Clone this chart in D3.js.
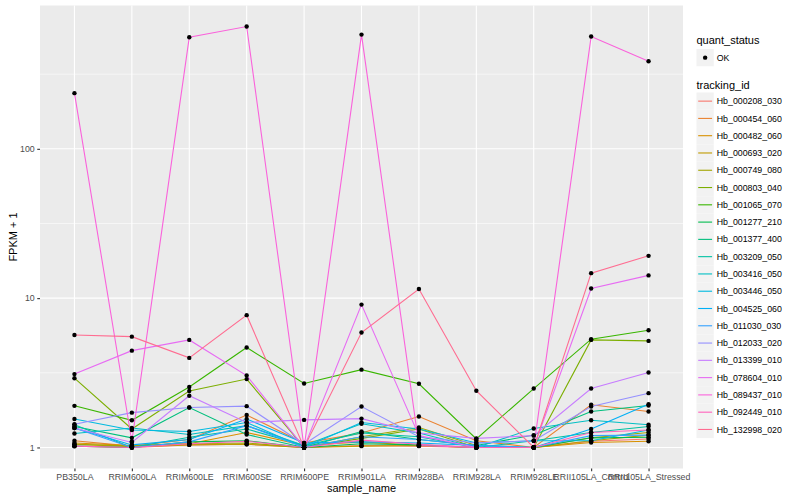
<!DOCTYPE html>
<html>
<head>
<meta charset="utf-8">
<script src="https://cdn.jsdelivr.net/npm/d3@7"></script>
<style>
  body { margin: 0; background: #ffffff; }
  svg { display: block; font-family: "Liberation Sans", Arial, Helvetica, sans-serif; }
</style>
</head>
<body>
<svg id="chart" width="800" height="500"></svg>
<script>
"use strict";

// sample names (x axis)
var samples = ["PB350LA", "RRIM600LA", "RRIM600LE", "RRIM600SE", "RRIM600PE",
  "RRIM901LA", "RRIM928BA", "RRIM928LA", "RRIM928LE",
  "RRII105LA_Control", "RRII105LA_Stressed"];

var trackingIds = ["Hb_000208_030", "Hb_000454_060", "Hb_000482_060", "Hb_000693_020",
  "Hb_000749_080", "Hb_000803_040", "Hb_001065_070", "Hb_001277_210", "Hb_001377_400",
  "Hb_003209_050", "Hb_003416_050", "Hb_003446_050", "Hb_004525_060", "Hb_011030_030",
  "Hb_012033_020", "Hb_013399_010", "Hb_078604_010", "Hb_089437_010", "Hb_092449_010",
  "Hb_132998_020"];

// FPKM + 1 for every gene, in the order of samples
var hb000208_030 = [1.02, 1.00, 1.04, 1.05, 1.00, 1.03, 1.02, 1.00, 1.00, 1.10, 1.14];
var hb000454_060 = [1.11, 1.02, 1.13, 1.65, 1.07, 1.25, 1.61, 1.11, 1.00, 1.93, 1.74];
var hb000482_060 = [1.07, 1.03, 1.06, 1.26, 1.03, 1.09, 1.03, 1.00, 1.00, 1.08, 1.10];
var hb000693_020 = [1.05, 1.01, 1.04, 1.05, 1.00, 1.02, 1.03, 1.00, 1.00, 1.11, 1.21];
var hb000749_080 = [1.05, 1.02, 1.06, 1.07, 1.00, 1.18, 1.36, 1.03, 1.00, 1.16, 1.26];
var hb000803_040 = [2.91, 1.33, 2.39, 2.87, 1.00, 1.15, 1.33, 1.00, 1.00, 5.25, 5.17];
var hb001065_070 = [1.90, 1.52, 2.54, 4.67, 2.68, 3.32, 2.67, 1.14, 2.48, 5.31, 6.10];
var hb001277_210 = [1.02, 1.00, 1.09, 1.11, 1.00, 1.06, 1.04, 1.00, 1.00, 1.16, 1.17];
var hb001377_400 = [1.38, 1.16, 1.85, 1.22, 1.00, 1.28, 1.13, 1.03, 1.21, 1.74, 1.91];
var hb003209_050 = [1.42, 1.00, 1.17, 1.33, 1.03, 1.25, 1.18, 1.00, 1.11, 1.26, 1.38];
var hb003416_050 = [1.24, 1.35, 1.22, 1.40, 1.03, 1.44, 1.25, 1.00, 1.34, 1.52, 1.42];
var hb003446_050 = [1.55, 1.31, 1.28, 1.47, 1.00, 1.47, 1.33, 1.07, 1.11, 1.11, 1.31];
var hb004525_060 = [1.35, 1.04, 1.13, 1.55, 1.07, 1.09, 1.07, 1.03, 1.00, 1.33, 1.95];
var hb011030_030 = [1.35, 1.00, 1.09, 1.40, 1.00, 1.18, 1.13, 1.03, 1.00, 1.20, 1.21];
var hb012033_020 = [1.43, 1.71, 1.85, 1.89, 1.05, 1.88, 1.18, 1.07, 1.11, 1.88, 2.31];
var hb013399_010 = [1.35, 1.08, 2.22, 1.47, 1.53, 1.56, 1.25, 1.15, 1.20, 2.48, 3.18];
var hb078604_010 = [3.10, 4.45, 5.25, 3.03, 1.00, 9.05, 1.20, 1.00, 1.00, 11.6, 14.2];
var hb089437_010 = [236, 1.10, 559, 659, 1.00, 582, 1.03, 1.00, 1.00, 565, 386];
var hb092449_010 = [1.02, 1.00, 1.06, 1.10, 1.00, 1.12, 1.05, 1.00, 1.00, 1.26, 1.31];
var hb132998_020 = [5.67, 5.52, 3.98, 7.69, 1.00, 5.88, 11.5, 2.40, 1.00, 14.7, 19.2];

var seriesValues = [hb000208_030, hb000454_060, hb000482_060, hb000693_020, hb000749_080,
  hb000803_040, hb001065_070, hb001277_210, hb001377_400, hb003209_050, hb003416_050,
  hb003446_050, hb004525_060, hb011030_030, hb012033_020, hb013399_010, hb078604_010,
  hb089437_010, hb092449_010, hb132998_020];

var yTicks = [1, 10, 100];
var quantStatus = ["OK"];

var series = trackingIds.map(function(id, i) {
  return {
    id: id,
    points: samples.map(function(s, j) { return { sample: s, value: seriesValues[i][j] }; })
  };
});

// ggplot hue palette (20 colours)
var color = d3.scaleOrdinal()
  .domain(trackingIds)
  .range(["#F8766D", "#EA8331", "#D89000", "#C09B00", "#A3A500", "#7CAE00", "#39B600",
    "#00BB4E", "#00BF7D", "#00C1A3", "#00BFC4", "#00BAE0", "#00B0F6", "#35A2FF",
    "#9590FF", "#C77CFF", "#E76BF3", "#FA62DB", "#FF62BC", "#FF6C91"]);

var svg = d3.select("#chart");

var panel = { left: 40, right: 683, top: 5.5, bottom: 468.5 };

var x = d3.scalePoint()
  .domain(samples)
  .range([panel.left, panel.right])
  .padding(0.6);

// log scale with 5% expansion like ggplot
var allValues = d3.merge(seriesValues);
var lmin = Math.log10(d3.min(allValues)), lmax = Math.log10(d3.max(allValues));
var pad = (lmax - lmin) * 0.05;
var y = d3.scaleLog()
  .domain([Math.pow(10, lmin - pad), Math.pow(10, lmax + pad)])
  .range([panel.bottom, panel.top]);

// panel background
svg.append("rect")
  .attr("x", panel.left)
  .attr("y", panel.top)
  .attr("width", panel.right - panel.left)
  .attr("height", panel.bottom - panel.top)
  .attr("fill", "#EBEBEB");

// minor gridlines (half decade)
var minor = [0.5, 1.5, 2.5].map(function(d) { return Math.pow(10, d); });
svg.append("g").selectAll("line")
  .data(minor)
  .enter()
  .append("line")
  .attr("x1", panel.left).attr("x2", panel.right)
  .attr("y1", function(d) { return y(d); })
  .attr("y2", function(d) { return y(d); })
  .attr("stroke", "#ffffff")
  .attr("stroke-width", 0.55);

// major gridlines
svg.append("g").selectAll("line")
  .data(yTicks)
  .enter()
  .append("line")
  .attr("x1", panel.left).attr("x2", panel.right)
  .attr("y1", function(d) { return y(d); })
  .attr("y2", function(d) { return y(d); })
  .attr("stroke", "#ffffff")
  .attr("stroke-width", 1.1);

svg.append("g").selectAll("line")
  .data(samples)
  .enter()
  .append("line")
  .attr("x1", function(d) { return x(d); })
  .attr("x2", function(d) { return x(d); })
  .attr("y1", panel.top).attr("y2", panel.bottom)
  .attr("stroke", "#ffffff")
  .attr("stroke-width", 1.1);

// lines
var line = d3.line()
  .x(function(d) { return x(d.sample); })
  .y(function(d) { return y(d.value); });

svg.append("g").selectAll("path")
  .data(series)
  .enter()
  .append("path")
  .attr("d", function(d) { return line(d.points); })
  .attr("fill", "none")
  .attr("stroke", function(d) { return color(d.id); })
  .attr("stroke-width", 1.1);

// points
svg.append("g").selectAll("circle")
  .data(d3.merge(series.map(function(s) { return s.points; })))
  .enter()
  .append("circle")
  .attr("cx", function(d) { return x(d.sample); })
  .attr("cy", function(d) { return y(d.value); })
  .attr("r", 2.2)
  .attr("fill", "#000000");

// axes
var xAxis = d3.axisBottom(x).tickSize(2.75).tickPadding(2.5);
var gx = svg.append("g")
  .attr("transform", "translate(0," + panel.bottom + ")")
  .call(xAxis);

var yAxis = d3.axisLeft(y).tickValues(yTicks).tickFormat(d3.format("d")).tickSize(2.75).tickPadding(2.5);
var gy = svg.append("g")
  .attr("transform", "translate(" + panel.left + ",0)")
  .call(yAxis);

[gx, gy].forEach(function(g) {
  g.select(".domain").remove();
  g.selectAll(".tick line").attr("stroke", "#333333").attr("stroke-width", 1.1);
  g.selectAll(".tick text")
    .attr("fill", "#4D4D4D")
    .style("font-size", "8.8px")
    .style("font-family", "'Liberation Sans', Arial, Helvetica, sans-serif");
});

// axis titles
svg.append("text")
  .attr("x", (panel.left + panel.right) / 2)
  .attr("y", 492)
  .attr("text-anchor", "middle")
  .style("font-size", "11px")
  .text("sample_name");

svg.append("text")
  .attr("transform", "translate(17," + (panel.top + panel.bottom) / 2 + ") rotate(-90)")
  .attr("text-anchor", "middle")
  .style("font-size", "11px")
  .text("FPKM + 1");

// legends
var legendX = 696.5;
var keySize = 17.28;

var lq = svg.append("g").attr("class", "legend");
lq.append("text")
  .attr("x", legendX)
  .attr("y", 44)
  .style("font-size", "11px")
  .text("quant_status");

var qk = lq.selectAll(".qkey")
  .data(quantStatus)
  .enter()
  .append("g")
  .attr("class", "qkey")
  .attr("transform", function(d, i) { return "translate(" + legendX + "," + (49 + i * keySize) + ")"; });
qk.append("rect")
  .attr("width", keySize).attr("height", keySize)
  .attr("fill", "#F2F2F2");
qk.append("circle")
  .attr("cx", keySize / 2).attr("cy", keySize / 2)
  .attr("r", 2.2)
  .attr("fill", "#000000");
qk.append("text")
  .attr("x", keySize + 3)
  .attr("y", keySize / 2 + 3.1)
  .style("font-size", "8.8px")
  .text(function(d) { return d; });

var lt = svg.append("g").attr("class", "legend");
lt.append("text")
  .attr("x", legendX)
  .attr("y", 89)
  .style("font-size", "11px")
  .text("tracking_id");

var tk = lt.selectAll(".tkey")
  .data(trackingIds)
  .enter()
  .append("g")
  .attr("class", "tkey")
  .attr("transform", function(d, i) { return "translate(" + legendX + "," + (92.5 + i * keySize) + ")"; });
tk.append("rect")
  .attr("width", keySize).attr("height", keySize)
  .attr("fill", "#F2F2F2");
tk.append("line")
  .attr("x1", 1.7).attr("x2", keySize - 1.7)
  .attr("y1", keySize / 2).attr("y2", keySize / 2)
  .attr("stroke", function(d) { return color(d); })
  .attr("stroke-width", 1.1);
tk.append("text")
  .attr("x", keySize + 3)
  .attr("y", keySize / 2 + 3.1)
  .style("font-size", "8.8px")
  .text(function(d) { return d; });
</script>
</body>
</html>
